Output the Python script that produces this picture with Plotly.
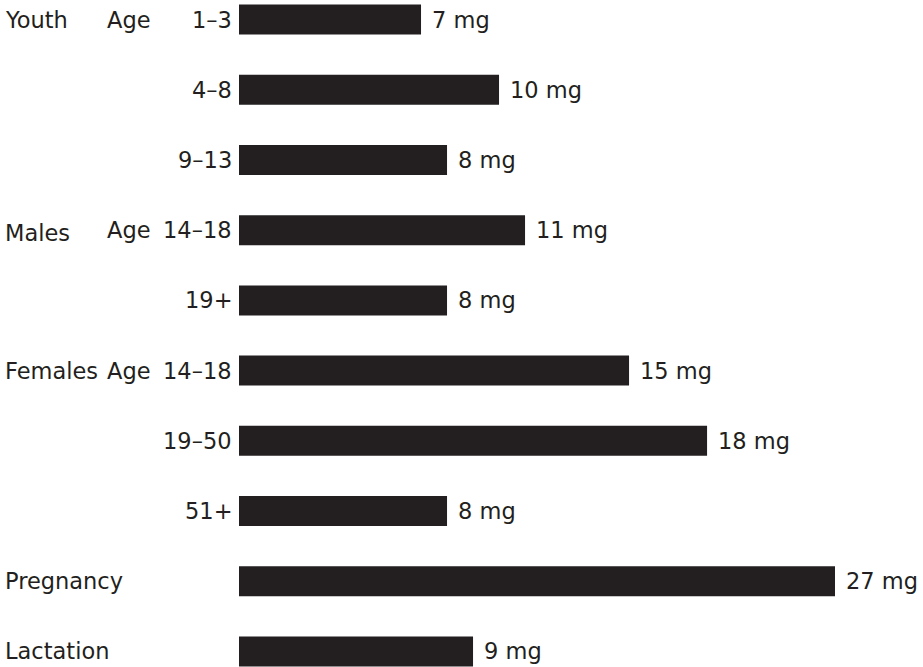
import plotly.graph_objects as go

# Recommended daily iron intake by life stage
age_labels = ["1–3", "4–8", "9–13", "14–18", "19+", "14–18", "19–50", "51+", "", ""]
iron_mg = [7, 10, 8, 11, 8, 15, 18, 8, 27, 9]
group_labels = ["Youth", "", "", "Males", "", "Females", "", "", "Pregnancy", "Lactation"]
age_prefix = ["Age", "", "", "Age", "", "Age", "", "", "", ""]

INK = "#231f20"
FONT = "DejaVu Sans"
FS = 22.5
W, H = 923, 667
XMAX = 22.92  # visible axis span; longer bars run to the right edge

rows = list(range(len(iron_mg)))

fig = go.Figure(go.Bar(
    x=iron_mg, y=rows, orientation="h",
    marker=dict(color=INK, line=dict(width=0)),
    width=0.427, hoverinfo="skip",
))

ann = []
for i, v in enumerate(iron_mg):
    ann.append(dict(x=min(v, XMAX), y=i, xref="x", yref="y", text=f"{v} mg",
                    xanchor="left", yanchor="middle", xshift=9, showarrow=False))
    if age_labels[i]:
        ann.append(dict(x=234 / W, y=i, xref="paper", yref="y", text=age_labels[i],
                        xanchor="right", yanchor="middle", showarrow=False))
    if age_prefix[i]:
        ann.append(dict(x=105 / W, y=i, xref="paper", yref="y", text=age_prefix[i],
                        xanchor="left", yanchor="middle", showarrow=False))
    if group_labels[i]:
        ann.append(dict(x=3 / W, y=i, xref="paper", yref="y", text=group_labels[i],
                        xanchor="left", yanchor="middle", showarrow=False,
                        yshift=-3 if group_labels[i] == "Males" else 0))

fig.update_layout(
    width=W, height=H,
    margin=dict(l=0, r=0, t=0, b=0),
    paper_bgcolor="white", plot_bgcolor="white",
    showlegend=False,
    font=dict(family=FONT, size=FS, color=INK),
    xaxis=dict(domain=[239 / W, 835 / W], range=[0, XMAX], visible=False, fixedrange=True),
    yaxis=dict(range=[9.221, -0.278], visible=False, fixedrange=True),
    annotations=ann,
)

fig.write_html("out.html")
